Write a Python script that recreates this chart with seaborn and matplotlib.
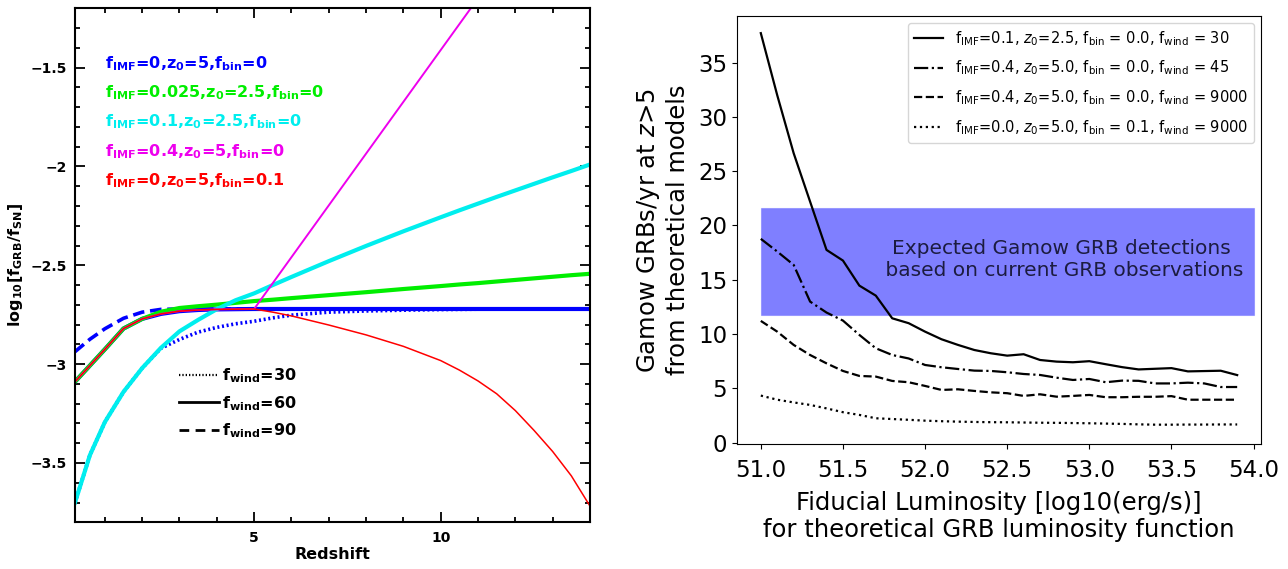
import numpy as np
import pandas as pd
import matplotlib
matplotlib.use("Agg")
import matplotlib.pyplot as plt
import seaborn as sns
from matplotlib.ticker import MultipleLocator, FuncFormatter
from matplotlib.lines import Line2D

plt.rcParams['mathtext.fontset'] = 'dejavusans'
plt.rcParams['font.family'] = ['DejaVu Sans']

# ---------------- Left panel data ----------------
redshift = [0.2, 0.6, 1.0, 1.5, 2.0, 2.5, 3.0, 3.5, 4.0, 4.5, 5.0, 5.5, 6.0,
            7.0, 8.0, 9.0, 10.0, 10.5, 11.0, 11.5, 12.0, 12.5, 13.0, 13.5, 14.0]
blue_wind60 = [-3.089, -3.007, -2.925, -2.820, -2.771, -2.746, -2.732, -2.726, -2.723, -2.722,
               -2.721, -2.721, -2.721, -2.721, -2.721, -2.721, -2.721, -2.721, -2.721, -2.721,
               -2.721, -2.721, -2.721, -2.721, -2.721]
blue_wind90 = [-2.937, -2.874, -2.821, -2.768, -2.737, -2.723, -2.721, -2.721, -2.721, -2.721,
               -2.721, -2.721, -2.721, -2.721, -2.721, -2.721, -2.721, -2.721, -2.721, -2.721,
               -2.721, -2.721, -2.721, -2.721, -2.721]
blue_wind30 = [-3.700, -3.460, -3.293, -3.140, -3.020, -2.920, -2.875, -2.838, -2.814, -2.796,
               -2.783, -2.766, -2.752, -2.737, -2.731, -2.727, -2.724, -2.723, -2.722, -2.722,
               -2.722, -2.722, -2.722, -2.722, -2.722]
green_vals = [-3.089, -3.007, -2.925, -2.820, -2.771, -2.735, -2.716, -2.707, -2.699, -2.690,
              -2.681, -2.674, -2.666, -2.651, -2.636, -2.620, -2.605, -2.597, -2.590, -2.582,
              -2.574, -2.566, -2.558, -2.550, -2.543]
cyan_vals = [-3.700, -3.460, -3.293, -3.140, -3.020, -2.918, -2.834, -2.776, -2.722, -2.677,
             -2.642, -2.600, -2.559, -2.479, -2.402, -2.328, -2.257, -2.222, -2.188, -2.154,
             -2.121, -2.088, -2.055, -2.023, -1.990]
magenta_vals = [-3.089, -3.007, -2.925, -2.820, -2.771, -2.746, -2.732, -2.726, -2.723, -2.722,
                -2.721, -2.590, -2.459, -2.197, -1.935, -1.673, -1.411, -1.280, -1.149, np.nan,
                np.nan, np.nan, np.nan, np.nan, np.nan]
red_vals = [-3.089, -3.007, -2.925, -2.820, -2.771, -2.746, -2.732, -2.726, -2.723, -2.722,
            -2.721, -2.737, -2.756, -2.802, -2.852, -2.910, -2.982, -3.030, -3.085, -3.150,
            -3.235, -3.335, -3.442, -3.565, -3.718]

model_labels = [r'f$_\mathbf{IMF}$=0,z$_\mathbf{0}$=5,f$_\mathbf{bin}$=0',
                r'f$_\mathbf{IMF}$=0.025,z$_\mathbf{0}$=2.5,f$_\mathbf{bin}$=0',
                r'f$_\mathbf{IMF}$=0.1,z$_\mathbf{0}$=2.5,f$_\mathbf{bin}$=0',
                r'f$_\mathbf{IMF}$=0.4,z$_\mathbf{0}$=5,f$_\mathbf{bin}$=0',
                r'f$_\mathbf{IMF}$=0,z$_\mathbf{0}$=5,f$_\mathbf{bin}$=0.1']
model_colors = ['#0000ff', '#00ee00', '#00eeee', '#ee00ee', '#ff0000']
wind_labels = [r'f$_\mathbf{wind}$=30', r'f$_\mathbf{wind}$=60', r'f$_\mathbf{wind}$=90']

# ---------------- Right panel data ----------------
luminosity = [51.0, 51.1, 51.2, 51.3, 51.4, 51.5, 51.6, 51.7, 51.8, 51.9,
              52.0, 52.1, 52.2, 52.3, 52.4, 52.5, 52.6, 52.7, 52.8, 52.9,
              53.0, 53.1, 53.2, 53.3, 53.4, 53.5, 53.6, 53.7, 53.8, 53.9]
rate_a = [37.72, 32.0, 26.66, 22.2, 17.75, 16.77, 14.46, 13.54, 11.45, 11.0,
          10.22, 9.52, 9.0, 8.53, 8.23, 8.01, 8.14, 7.61, 7.46, 7.40,
          7.50, 7.22, 6.95, 6.74, 6.80, 6.86, 6.56, 6.59, 6.62, 6.22]
rate_b = [18.77, 17.6, 16.37, 12.99, 11.98, 11.24, 9.92, 8.69, 8.07, 7.75,
          7.15, 6.94, 6.78, 6.63, 6.60, 6.48, 6.32, 6.23, 5.98, 5.77,
          5.86, 5.56, 5.71, 5.69, 5.45, 5.45, 5.52, 5.45, 5.12, 5.12]
rate_c = [11.21, 10.22, 9.0, 8.07, 7.3, 6.6, 6.14, 6.08, 5.68, 5.56,
          5.22, 4.85, 4.91, 4.76, 4.63, 4.55, 4.30, 4.45, 4.23, 4.30,
          4.39, 4.18, 4.18, 4.22, 4.22, 4.28, 3.95, 3.95, 3.95, 3.95]
rate_d = [4.33, 3.95, 3.70, 3.47, 3.15, 2.80, 2.55, 2.24, 2.17, 2.10,
          2.02, 1.97, 1.93, 1.90, 1.88, 1.87, 1.85, 1.83, 1.82, 1.80,
          1.78, 1.75, 1.72, 1.68, 1.65, 1.65, 1.66, 1.66, 1.67, 1.67]
rate_labels = [r'f$_{\rm IMF}$=0.1, $z_0$=2.5, f$_{\rm bin}$ = 0.0, f$_{\rm wind}$ = 30',
               r'f$_{\rm IMF}$=0.4, $z_0$=5.0, f$_{\rm bin}$ = 0.0, f$_{\rm wind}$ = 45',
               r'f$_{\rm IMF}$=0.4, $z_0$=5.0, f$_{\rm bin}$ = 0.0, f$_{\rm wind}$ = 9000',
               r'f$_{\rm IMF}$=0.0, $z_0$=5.0, f$_{\rm bin}$ = 0.1, f$_{\rm wind}$ = 9000']
band_lum = [51.0, 54.0]
band_low = [11.8, 11.8]
band_high = [21.6, 21.6]
band_text = "Expected Gamow GRB detections\n based on current GRB observations"

# ---------------- Figure ----------------
fig = plt.figure(figsize=(12.88, 5.69), dpi=100)
axL = fig.add_axes([0.05823, 0.08207, 0.39984, 0.90334])
axR = fig.add_axes([0.5722, 0.21968, 0.40683, 0.75220])

# ---- Left panel ----
common = dict(ax=axL, estimator=None, sort=False, legend=False)
sns.lineplot(x=redshift, y=blue_wind30, color='#0000ff', lw=2.6,
             linestyle=(0, (0.55, 0.75)), **common)
sns.lineplot(x=redshift, y=blue_wind90, color='#0000ff', lw=2.6,
             linestyle=(0, (3.2, 1.6)), **common)
sns.lineplot(x=redshift, y=blue_wind60, color='#0000ff', lw=3.0, **common)
sns.lineplot(x=redshift, y=green_vals, color='#00ee00', lw=3.0, **common)
sns.lineplot(x=redshift, y=cyan_vals, color='#00eeee', lw=3.0, **common)
sns.lineplot(x=redshift, y=magenta_vals, color='#ee00ee', lw=1.4, **common)
sns.lineplot(x=redshift, y=red_vals, color='#ff0000', lw=1.1, **common)

axL.set_xlim(0.2, 14.0)
axL.set_ylim(-3.8, -1.2)
axL.xaxis.set_major_locator(MultipleLocator(5))
axL.xaxis.set_minor_locator(MultipleLocator(1))
axL.yaxis.set_major_locator(MultipleLocator(0.5))
axL.yaxis.set_minor_locator(MultipleLocator(0.1))
axL.yaxis.set_major_formatter(FuncFormatter(lambda v, p: f"{v:g}".replace('-', '\u2212')))
axL.xaxis.set_major_formatter(FuncFormatter(lambda v, p: f"{v:g}"))
axL.tick_params(which='both', direction='in', top=True, right=True, width=1.3,
                labelsize=10, pad=6)
axL.tick_params(which='major', length=7)
axL.tick_params(which='minor', length=3.5)
for lab in axL.get_xticklabels() + axL.get_yticklabels():
    lab.set_fontweight('bold')
for s in axL.spines.values():
    s.set_linewidth(1.5)
axL.set_xlabel('Redshift', fontsize=11.5, fontweight='bold', labelpad=2)
axL.set_ylabel(r'log$_\mathbf{10}$[f$_\mathbf{GRB}$/f$_\mathbf{SN}$]', fontsize=11.5,
               fontweight='bold', labelpad=4)

for i, (lab, col) in enumerate(zip(model_labels, model_colors)):
    axL.text(1.0, -1.503 - 0.148 * i, lab, color=col, fontsize=11.5,
             fontweight='bold', ha='left', va='baseline')

wind_handles = [Line2D([], [], color='black', lw=1.6, linestyle=(0, (0.6, 0.9))),
                Line2D([], [], color='black', lw=2.0, linestyle='-'),
                Line2D([], [], color='black', lw=2.0, linestyle=(0, (3.5, 2.3)))]
axL.legend(wind_handles, wind_labels, loc='center left', bbox_to_anchor=(0.2025, 0.2315),
           frameon=False, borderpad=0, borderaxespad=0, handlelength=2.5,
           handletextpad=0.2, labelspacing=0.55,
           prop={'weight': 'bold', 'size': 11.5})

# ---- Right panel ----
axR.fill_between(band_lum, band_low, band_high, color='blue', alpha=0.5, lw=0.8,
                 edgecolor=(0.45, 0.45, 1.0), zorder=1)
styles = ['-', '-.', '--', ':']
for vals, lab, ls in zip([rate_a, rate_b, rate_c, rate_d], rate_labels, styles):
    sns.lineplot(x=luminosity, y=vals, ax=axR, color='black', lw=1.6, linestyle=ls,
                 label=lab, estimator=None, sort=False, zorder=3)
axR.text(52.83, 16.83, band_text, ha='center', va='center', multialignment='center',
         fontsize=14.5, color='#1c1c40', zorder=2)
axR.set_xlim(50.855, 54.045)
axR.set_ylim(-0.13, 39.3)
axR.set_xticks([51.0, 51.5, 52.0, 52.5, 53.0, 53.5, 54.0])
axR.set_yticks([0, 5, 10, 15, 20, 25, 30, 35])
axR.xaxis.set_major_formatter(FuncFormatter(lambda v, p: f"{v:.1f}"))
axR.tick_params(labelsize=16.5)
axR.tick_params(axis='x', pad=7.5)
axR.set_xlabel('Fiducial Luminosity [log10(erg/s)]\nfor theoretical GRB luminosity function',
               fontsize=17.5, labelpad=6)
axR.set_ylabel('Gamow GRBs/yr at $z$>5\nfrom theoretical models', fontsize=17.5, labelpad=6)
axR.legend(loc='upper right', fontsize=10.5, labelspacing=0.75)

fig.savefig('out.png', dpi=100)
